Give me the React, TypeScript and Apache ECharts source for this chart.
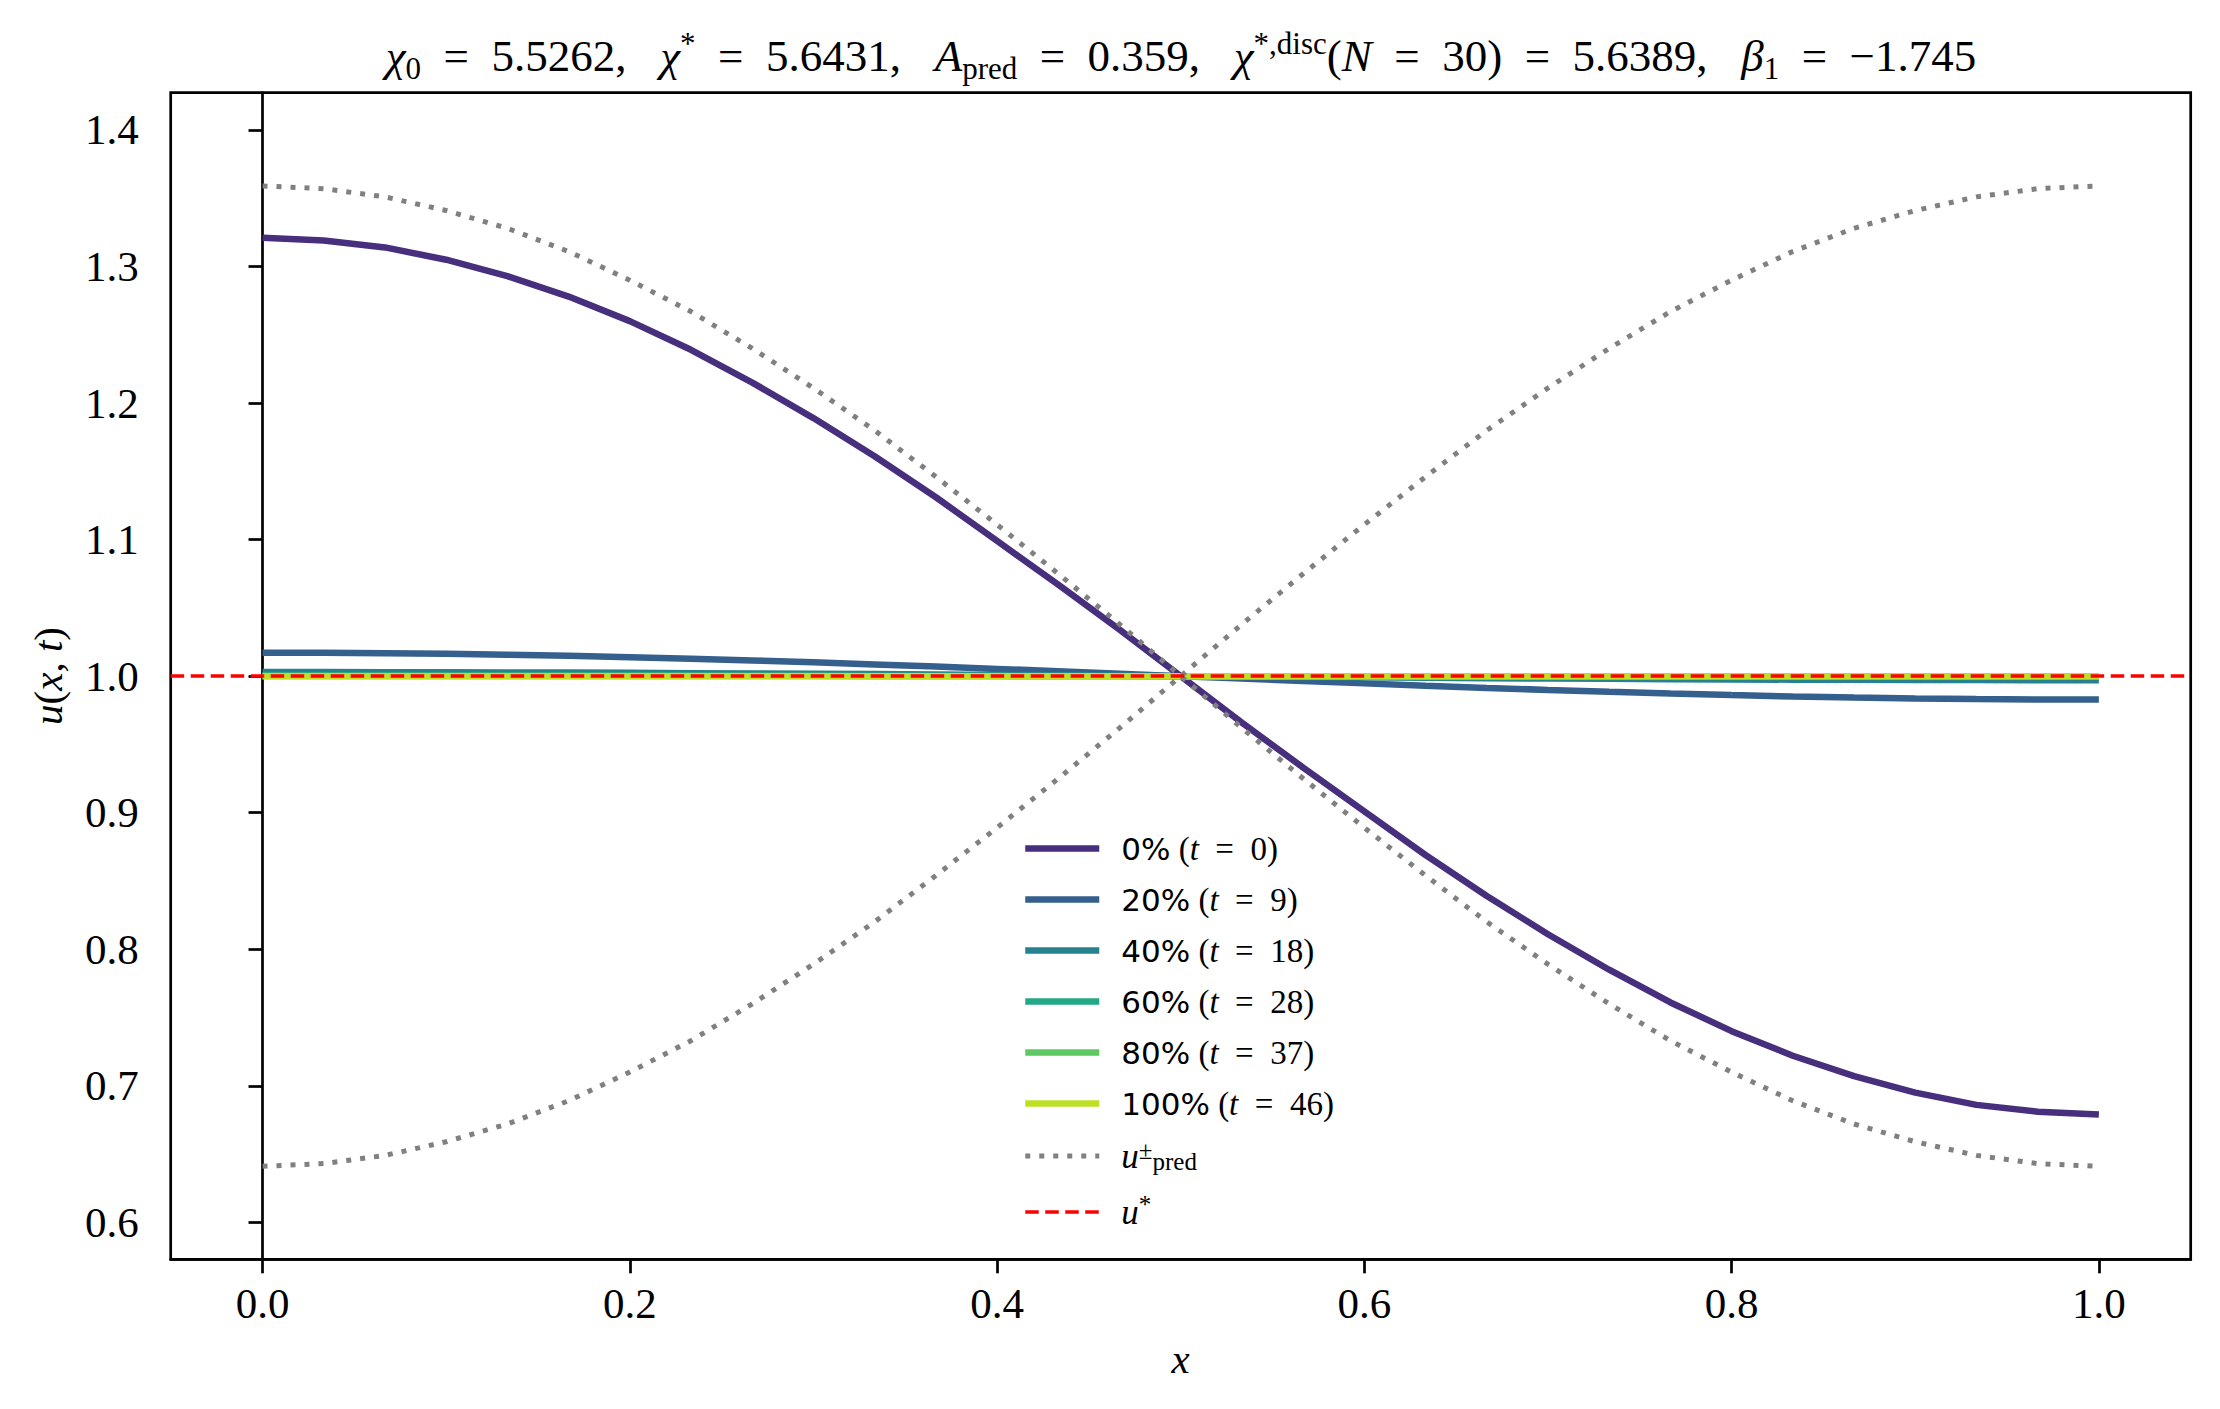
import React, { useEffect, useRef } from 'react';
import * as echarts from 'echarts';

// grid x_i = i/30 (N = 30)
const xs = [
  0, 0.0333, 0.0667, 0.1, 0.1333, 0.1667, 0.2, 0.2333, 0.2667, 0.3, 0.3333,
  0.3667, 0.4, 0.4333, 0.4667, 0.5, 0.5333, 0.5667, 0.6, 0.6333, 0.6667,
  0.7, 0.7333, 0.7667, 0.8, 0.8333, 0.8667, 0.9, 0.9333, 0.9667, 1.0,
];

const u0 = [
  1.321, 1.319, 1.314, 1.305, 1.293, 1.278, 1.26, 1.239, 1.215, 1.189, 1.161,
  1.131, 1.099, 1.067, 1.034, 1.0, 0.966, 0.933, 0.901, 0.869, 0.839,
  0.811, 0.785, 0.761, 0.74, 0.722, 0.707, 0.695, 0.686, 0.681, 0.679,
];
const u20 = [
  1.0172, 1.0171, 1.0168, 1.0164, 1.0157, 1.0149, 1.0139, 1.0128, 1.0115, 1.0101, 1.0086,
  1.007, 1.0053, 1.0036, 1.0018, 1.0, 0.9982, 0.9964, 0.9947, 0.993, 0.9914,
  0.9899, 0.9885, 0.9872, 0.9861, 0.9851, 0.9843, 0.9836, 0.9832, 0.9829, 0.9828,
];
const u40 = [
  1.003, 1.003, 1.0029, 1.0029, 1.0027, 1.0026, 1.0024, 1.0022, 1.002, 1.0018, 1.0015,
  1.0012, 1.0009, 1.0006, 1.0003, 1.0, 0.9997, 0.9994, 0.9991, 0.9988, 0.9985,
  0.9982, 0.998, 0.9978, 0.9976, 0.9974, 0.9973, 0.9971, 0.9971, 0.997, 0.997,
];
const u60 = [
  1.0005, 1.0005, 1.0005, 1.0005, 1.0005, 1.0004, 1.0004, 1.0004, 1.0003, 1.0003, 1.0003,
  1.0002, 1.0002, 1.0001, 1.0001, 1.0, 0.9999, 0.9999, 0.9998, 0.9998, 0.9997,
  0.9997, 0.9997, 0.9996, 0.9996, 0.9996, 0.9995, 0.9995, 0.9995, 0.9995, 0.9995,
];
const u80 = [
  1.0001, 1.0001, 1.0001, 1.0001, 1.0001, 1.0001, 1.0001, 1.0001, 1.0001, 1.0001, 1.0,
  1.0, 1.0, 1.0, 1.0, 1.0, 1.0, 1.0, 1.0, 1.0, 1.0,
  0.9999, 0.9999, 0.9999, 0.9999, 0.9999, 0.9999, 0.9999, 0.9999, 0.9999, 0.9999,
];
const u100 = [
  1.0, 1.0, 1.0, 1.0, 1.0, 1.0, 1.0, 1.0, 1.0, 1.0, 1.0,
  1.0, 1.0, 1.0, 1.0, 1.0, 1.0, 1.0, 1.0, 1.0, 1.0,
  1.0, 1.0, 1.0, 1.0, 1.0, 1.0, 1.0, 1.0, 1.0, 1.0,
];

const uPredPlus = [
  1.359, 1.357, 1.351, 1.341, 1.328, 1.311, 1.29, 1.267, 1.24, 1.211, 1.18,
  1.146, 1.111, 1.075, 1.038, 1.0, 0.962, 0.925, 0.889, 0.854, 0.82,
  0.789, 0.76, 0.733, 0.71, 0.689, 0.672, 0.659, 0.649, 0.643, 0.641,
];
const uPredMinus = [
  0.641, 0.643, 0.649, 0.659, 0.672, 0.689, 0.71, 0.733, 0.76, 0.789, 0.82,
  0.854, 0.889, 0.925, 0.962, 1.0, 1.038, 1.075, 1.111, 1.146, 1.18,
  1.211, 1.24, 1.267, 1.29, 1.311, 1.328, 1.341, 1.351, 1.357, 1.359,
];
const uStar = 1.0;

const snapNames = ['0% (t = 0)', '20% (t = 9)', '40% (t = 18)', '60% (t = 28)', '80% (t = 37)', '100% (t = 46)'];
const snapColors = ['#472f7d', '#355f8d', '#26828e', '#22a884', '#5ec962', '#bddf26'];
const snapData = [u0, u20, u40, u60, u80, u100];

const xTicks = [0, 0.2, 0.4, 0.6, 0.8, 1.0];
const yTicks = [0.6, 0.7, 0.8, 0.9, 1.0, 1.1, 1.2, 1.3, 1.4];

const SERIF = 'Liberation Serif';
const SANS = 'DejaVu Sans';
const EQ = '\u2002=\u2002';
const SEP = ',\u2002 ';

const App: React.FC = () => {
  const chartRef = useRef<HTMLDivElement>(null);

  useEffect(() => {
    document.body.style.margin = '0';
    if (!chartRef.current) return;
    const chart = echarts.init(chartRef.current, undefined, { renderer: 'svg' });

    const base = { fontFamily: SERIF, fontWeight: 'normal', color: '#000' };
    const titleRich = {
      r: { ...base, fontSize: 45, lineHeight: 56 },
      i: { ...base, fontSize: 45, lineHeight: 56, fontStyle: 'italic' },
      sub: { ...base, fontSize: 31, lineHeight: 31, verticalAlign: 'bottom' },
      sup: { ...base, fontSize: 31, lineHeight: 31, verticalAlign: 'top' },
    };
    const legendRich = {
      s: { fontFamily: SANS, fontWeight: 'normal', color: '#000', fontSize: 31, lineHeight: 36 },
      r: { ...base, fontSize: 33, lineHeight: 36 },
      i: { ...base, fontSize: 33, lineHeight: 36, fontStyle: 'italic' },
      sub: { ...base, fontSize: 25, lineHeight: 22, verticalAlign: 'bottom' },
      sup: { ...base, fontSize: 25, lineHeight: 22, verticalAlign: 'top' },
      big: { ...base, fontSize: 35, lineHeight: 36, fontStyle: 'italic' },
      bigs: { ...base, fontSize: 35, lineHeight: 40, fontStyle: 'italic' },
    };

    const series: any[] = snapNames.map((name, k) => ({
      name,
      type: 'line',
      showSymbol: false,
      symbol: 'none',
      color: snapColors[k],
      lineStyle: { width: 6.5, color: snapColors[k] },
      data: xs.map((x, i) => [x, snapData[k][i]]),
    }));
    [uPredPlus, uPredMinus].forEach((arr) => {
      series.push({
        name: 'u_pred',
        type: 'line',
        showSymbol: false,
        symbol: 'none',
        color: '#808080',
        lineStyle: { width: 5, color: '#808080', type: [5, 9] },
        data: xs.map((x, i) => [x, arr[i]]),
      });
    });
    series.push({
      name: 'u_star',
      type: 'line',
      showSymbol: false,
      symbol: 'none',
      color: '#ff0000',
      lineStyle: { width: 3.5, color: '#ff0000', type: [13.5, 6.5] },
      data: [],
      markLine: {
        silent: true,
        symbol: 'none',
        label: { show: false },
        lineStyle: { width: 3.5, color: '#ff0000', type: [13.5, 6.5] },
        data: [{ yAxis: uStar }],
      },
    });

    const option = {
      animation: false,
      backgroundColor: '#fff',
      title: {
        text:
          `{i|χ}{sub|0}{r|${EQ}5.5262${SEP}}{i|χ}{sup|*}{r|${EQ}5.6431${SEP}}{i|A}{sub|pred}{r|${EQ}0.359${SEP}}` +
          `{i|χ}{sup|*,disc}{r|(}{i|N}{r|${EQ}30)${EQ}5.6389${SEP}}{i|β}{sub|1}{r|${EQ}−1.745}`,
        left: 1181,
        top: 28,
        textAlign: 'center',
        padding: 0,
        textStyle: { fontWeight: 'normal', rich: titleRich },
      },
      legend: {
        orient: 'vertical',
        left: 1022,
        top: 832,
        itemWidth: 74,
        itemHeight: 14,
        itemGap: 18,
        padding: 0,
        itemStyle: { opacity: 0 },
        lineStyle: { width: 'inherit', type: 'inherit' },
        data: [...snapNames, 'u_pred', 'u_star'],
        textStyle: { rich: legendRich, padding: [0, 0, 0, 17] },
        formatter: (name: string) => {
          if (name === 'u_pred') return '{big|u}{sup|±}{sub|pred}';
          if (name === 'u_star') return '{bigs|u}{sup|*}';
          const m = name.match(/^(\d+%) \(t = (\d+)\)$/);
          if (!m) return name;
          return `{s|${m[1]}}{r| (}{i|t}{r|${EQ}${m[2]})}`;
        },
      },
      grid: {
        left: 170.7,
        right: 29.3,
        top: 92.7,
        bottom: 149.7,
        show: true,
        borderColor: '#000',
        borderWidth: 2.7,
        backgroundColor: 'transparent',
      },
      xAxis: {
        type: 'value',
        min: -0.05,
        max: 1.05,
        name: 'x',
        nameLocation: 'middle',
        nameGap: 79,
        nameTextStyle: { fontFamily: SERIF, fontSize: 41, fontStyle: 'italic', color: '#000' },
        splitLine: { show: false },
        axisLine: { show: true, lineStyle: { color: '#000', width: 2.7 } },
        axisTick: { show: true, length: 14, customValues: xTicks, lineStyle: { color: '#000', width: 2.7 } },
        axisLabel: {
          customValues: xTicks,
          margin: 23,
          fontFamily: SERIF,
          fontSize: 43,
          color: '#000',
          formatter: (v: number) => v.toFixed(1),
        },
      },
      yAxis: {
        type: 'value',
        min: 0.5729,
        max: 1.4273,
        name: '{i|u}{r|(}{i|x}{r|, }{i|t}{r|)}',
        nameLocation: 'middle',
        nameGap: 102,
        nameTextStyle: {
          rich: {
            r: { ...base, fontSize: 41 },
            i: { ...base, fontSize: 41, fontStyle: 'italic' },
          },
        },
        splitLine: { show: false },
        axisLine: { show: true, lineStyle: { color: '#000', width: 2.7 } },
        axisTick: { show: true, length: 14, customValues: yTicks, lineStyle: { color: '#000', width: 2.7 } },
        axisLabel: {
          customValues: yTicks,
          margin: 32,
          fontFamily: SERIF,
          fontSize: 43,
          color: '#000',
          formatter: (v: number) => v.toFixed(1),
        },
      },
      series,
    };

    chart.setOption(option);
    return () => {
      chart.dispose();
    };
  }, []);

  return <div ref={chartRef} style={{ width: '2220px', height: '1409px' }} />;
};

export default App;
